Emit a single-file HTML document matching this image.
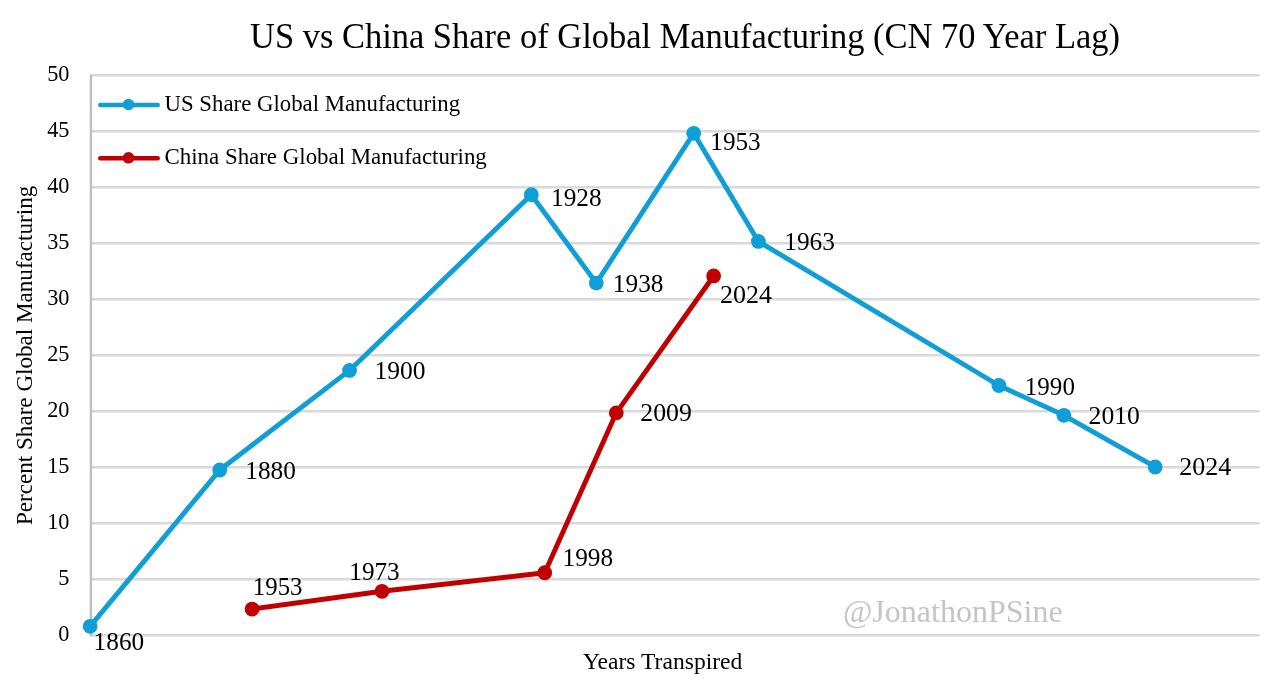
<!DOCTYPE html>
<html><head><meta charset="utf-8"><style>html,body{margin:0;padding:0;background:#fff;overflow:hidden}svg{display:block} body{will-change:transform}</style></head>
<body><svg width="1280" height="686" viewBox="0 0 1280 686"><rect width="1280" height="686" fill="#fff"/><line x1="90.93" y1="635.35" x2="1259.7" y2="635.35" stroke="#d9d9d9" stroke-width="2.5"/><line x1="90.93" y1="579.34" x2="1259.7" y2="579.34" stroke="#d9d9d9" stroke-width="2.5"/><line x1="90.93" y1="523.33" x2="1259.7" y2="523.33" stroke="#d9d9d9" stroke-width="2.5"/><line x1="90.93" y1="467.32" x2="1259.7" y2="467.32" stroke="#d9d9d9" stroke-width="2.5"/><line x1="90.93" y1="411.31" x2="1259.7" y2="411.31" stroke="#d9d9d9" stroke-width="2.5"/><line x1="90.93" y1="355.30" x2="1259.7" y2="355.30" stroke="#d9d9d9" stroke-width="2.5"/><line x1="90.93" y1="299.29" x2="1259.7" y2="299.29" stroke="#d9d9d9" stroke-width="2.5"/><line x1="90.93" y1="243.28" x2="1259.7" y2="243.28" stroke="#d9d9d9" stroke-width="2.5"/><line x1="90.93" y1="187.27" x2="1259.7" y2="187.27" stroke="#d9d9d9" stroke-width="2.5"/><line x1="90.93" y1="131.26" x2="1259.7" y2="131.26" stroke="#d9d9d9" stroke-width="2.5"/><line x1="90.93" y1="75.25" x2="1259.7" y2="75.25" stroke="#d9d9d9" stroke-width="2.5"/><path d="M90.93,636.60 V76.25 Q90.93,75.25 92.13000000000001,75.25" fill="none" stroke="#bfbfbf" stroke-width="2.5"/><text x="69.5" y="640.65" font-family="Liberation Serif" font-size="24.1" text-anchor="end" textLength="11.14" lengthAdjust="spacingAndGlyphs">0</text><text x="69.5" y="584.64" font-family="Liberation Serif" font-size="24.1" text-anchor="end" textLength="11.14" lengthAdjust="spacingAndGlyphs">5</text><text x="69.5" y="528.63" font-family="Liberation Serif" font-size="24.1" text-anchor="end" textLength="22.28" lengthAdjust="spacingAndGlyphs">10</text><text x="69.5" y="472.62" font-family="Liberation Serif" font-size="24.1" text-anchor="end" textLength="22.28" lengthAdjust="spacingAndGlyphs">15</text><text x="69.5" y="416.61" font-family="Liberation Serif" font-size="24.1" text-anchor="end" textLength="22.28" lengthAdjust="spacingAndGlyphs">20</text><text x="69.5" y="360.60" font-family="Liberation Serif" font-size="24.1" text-anchor="end" textLength="22.28" lengthAdjust="spacingAndGlyphs">25</text><text x="69.5" y="304.59" font-family="Liberation Serif" font-size="24.1" text-anchor="end" textLength="22.28" lengthAdjust="spacingAndGlyphs">30</text><text x="69.5" y="248.58" font-family="Liberation Serif" font-size="24.1" text-anchor="end" textLength="22.28" lengthAdjust="spacingAndGlyphs">35</text><text x="69.5" y="192.57" font-family="Liberation Serif" font-size="24.1" text-anchor="end" textLength="22.28" lengthAdjust="spacingAndGlyphs">40</text><text x="69.5" y="136.56" font-family="Liberation Serif" font-size="24.1" text-anchor="end" textLength="22.28" lengthAdjust="spacingAndGlyphs">45</text><text x="69.5" y="80.55" font-family="Liberation Serif" font-size="24.1" text-anchor="end" textLength="22.28" lengthAdjust="spacingAndGlyphs">50</text><text x="250" y="47.6" font-family="Liberation Serif" font-size="35.4" textLength="870" lengthAdjust="spacingAndGlyphs">US vs China Share of Global Manufacturing (CN 70 Year Lag)</text><text x="582.9" y="668.8" font-family="Liberation Serif" font-size="23.6">Years Transpired</text><text transform="translate(32.3,525) rotate(-90)" font-family="Liberation Serif" font-size="23.1">Percent Share Global Manufacturing</text><text x="842.9" y="621.9" font-family="Liberation Serif" font-size="32" fill="#c4c4c4">@JonathonPSine</text><line x1="100.3" y1="105.0" x2="157.7" y2="105.0" stroke="#0f9ed5" stroke-width="4.5" stroke-linecap="round"/><circle cx="128.5" cy="104.5" r="5.8" fill="#0f9ed5"/><text x="164.5" y="110.8" font-family="Liberation Serif" font-size="22.8">US Share Global Manufacturing</text><line x1="100.3" y1="158.3" x2="157.7" y2="158.3" stroke="#c00000" stroke-width="4.5" stroke-linecap="round"/><circle cx="128.5" cy="157.8" r="5.8" fill="#c00000"/><text x="164.5" y="163.8" font-family="Liberation Serif" font-size="22.9">China Share Global Manufacturing</text><polyline points="90.13,626.32 219.76,469.98 349.54,370.41 531.3,194.76 596.3,283.1 693.7,133.3 758.4,241.4 998.87,385.52 1063.87,415.3 1155.19,466.98" fill="none" stroke="#0f9ed5" stroke-width="4.9" stroke-linejoin="round" stroke-linecap="round"/><circle cx="90.13" cy="626.32" r="7.4" fill="#0f9ed5"/><circle cx="219.76" cy="469.98" r="7.4" fill="#0f9ed5"/><circle cx="349.54" cy="370.41" r="7.4" fill="#0f9ed5"/><circle cx="531.3" cy="194.76" r="7.4" fill="#0f9ed5"/><circle cx="596.3" cy="283.1" r="7.4" fill="#0f9ed5"/><circle cx="693.7" cy="133.3" r="7.4" fill="#0f9ed5"/><circle cx="758.4" cy="241.4" r="7.4" fill="#0f9ed5"/><circle cx="998.87" cy="385.52" r="7.4" fill="#0f9ed5"/><circle cx="1063.87" cy="415.3" r="7.4" fill="#0f9ed5"/><circle cx="1155.19" cy="466.98" r="7.4" fill="#0f9ed5"/><polyline points="252.09,609.09 381.98,591.3 544.74,572.74 616.3,412.87 713.63,275.96" fill="none" stroke="#c00000" stroke-width="4.9" stroke-linejoin="round" stroke-linecap="round"/><circle cx="252.09" cy="609.09" r="7.4" fill="#c00000"/><circle cx="381.98" cy="591.3" r="7.4" fill="#c00000"/><circle cx="544.74" cy="572.74" r="7.4" fill="#c00000"/><circle cx="616.3" cy="412.87" r="7.4" fill="#c00000"/><circle cx="713.63" cy="275.96" r="7.4" fill="#c00000"/><text x="93.64" y="650.20" font-family="Liberation Serif" font-size="25.0" textLength="50.57" lengthAdjust="spacingAndGlyphs">1860</text><text x="245.28" y="478.60" font-family="Liberation Serif" font-size="25.0" textLength="50.58" lengthAdjust="spacingAndGlyphs">1880</text><text x="374.57" y="379.10" font-family="Liberation Serif" font-size="25.0" textLength="51.05" lengthAdjust="spacingAndGlyphs">1900</text><text x="551.04" y="206.10" font-family="Liberation Serif" font-size="25.0" textLength="50.57" lengthAdjust="spacingAndGlyphs">1928</text><text x="612.88" y="291.60" font-family="Liberation Serif" font-size="25.0" textLength="50.58" lengthAdjust="spacingAndGlyphs">1938</text><text x="710.35" y="150.30" font-family="Liberation Serif" font-size="25.0" textLength="50.36" lengthAdjust="spacingAndGlyphs">1953</text><text x="784.34" y="250.10" font-family="Liberation Serif" font-size="25.0" textLength="50.57" lengthAdjust="spacingAndGlyphs">1963</text><text x="1024.83" y="394.55" font-family="Liberation Serif" font-size="25.0" textLength="50.07" lengthAdjust="spacingAndGlyphs">1990</text><text x="1088.56" y="423.84" font-family="Liberation Serif" font-size="25.0" textLength="51.32" lengthAdjust="spacingAndGlyphs">2010</text><text x="1179.30" y="474.90" font-family="Liberation Serif" font-size="25.0" textLength="52.04" lengthAdjust="spacingAndGlyphs">2024</text><text x="252.84" y="594.67" font-family="Liberation Serif" font-size="25.0" textLength="49.60" lengthAdjust="spacingAndGlyphs">1953</text><text x="349.35" y="579.90" font-family="Liberation Serif" font-size="25.0" textLength="50.36" lengthAdjust="spacingAndGlyphs">1973</text><text x="562.57" y="565.60" font-family="Liberation Serif" font-size="25.0" textLength="50.59" lengthAdjust="spacingAndGlyphs">1998</text><text x="640.31" y="420.90" font-family="Liberation Serif" font-size="25.0" textLength="51.57" lengthAdjust="spacingAndGlyphs">2009</text><text x="720.07" y="302.67" font-family="Liberation Serif" font-size="25.0" textLength="52.07" lengthAdjust="spacingAndGlyphs">2024</text></svg></body></html>
